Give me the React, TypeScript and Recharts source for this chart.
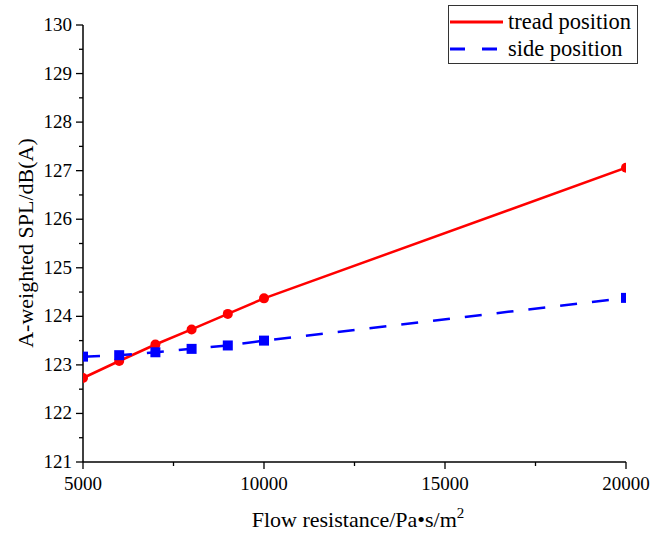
import React from 'react';
import { LineChart, Line, XAxis, YAxis } from 'recharts';

const flowResistance = [5000, 6000, 7000, 8000, 9000, 10000, 20000];
const treadSpl = [122.73, 123.08, 123.42, 123.73, 124.05, 124.37, 127.06];
const sideSpl = [123.17, 123.2, 123.26, 123.33, 123.4, 123.5, 124.38];
const xTicks = [5000, 7500, 10000, 12500, 15000, 17500, 20000];
const yTicks = [121, 121.5, 122, 122.5, 123, 123.5, 124, 124.5, 125, 125.5, 126, 126.5, 127, 127.5, 128, 128.5, 129, 129.5, 130];

const data = flowResistance.map((x, i) => ({ x, tread: treadSpl[i], side: sideSpl[i] }));

const FONT = '"Liberation Serif", "Times New Roman", serif';

// major ticks get a label, minor ones only a short mark
const XTick = (props: any) => {
    const { x, y, payload } = props;
    const major = payload.value % 5000 === 0;
    return (
        <g>
            <line x1={x} x2={x} y1={y} y2={y + (major ? 7 : 4)} stroke="#000" strokeWidth={1.3} />
            {major && (
                <text x={x} y={y + 28} textAnchor="middle" fontFamily={FONT} fontSize={19} fill="#000">
                    {payload.value}
                </text>
            )}
        </g>
    );
};

const YTick = (props: any) => {
    const { x, y, payload } = props;
    const major = Number.isInteger(payload.value);
    return (
        <g>
            <line x1={x} x2={x - (major ? 7 : 4)} y1={y} y2={y} stroke="#000" strokeWidth={1.3} />
            {major && (
                <text x={x - 11} y={y + 6} textAnchor="end" fontFamily={FONT} fontSize={19} fill="#000">
                    {payload.value}
                </text>
            )}
        </g>
    );
};

export default function App() {
    return (
        <div style={{ position: 'absolute', left: 0, top: 0, width: 667, height: 534, background: '#fff' }}>
            <LineChart width={667} height={534} data={data} margin={{ top: 25, right: 41, left: 23, bottom: 22 }}>
                <XAxis
                    dataKey="x"
                    type="number"
                    domain={[5000, 20000]}
                    ticks={xTicks}
                    allowDataOverflow
                    height={50}
                    stroke="#000"
                    strokeWidth={1.5}
                    tickLine={false}
                    tickSize={0}
                    tickMargin={0}
                    interval={0}
                    tick={<XTick />}
                />
                <YAxis
                    type="number"
                    domain={[121, 130]}
                    ticks={yTicks}
                    allowDataOverflow
                    width={60}
                    stroke="#000"
                    strokeWidth={1.5}
                    tickLine={false}
                    tickSize={0}
                    tickMargin={0}
                    interval={0}
                    tick={<YTick />}
                />
                <Line
                    dataKey="tread"
                    stroke="#ff0000"
                    strokeWidth={2.5}
                    dot={{ r: 5, fill: '#ff0000', stroke: '#ff0000', strokeWidth: 0 }}
                    isAnimationActive={false}
                />
                <Line
                    dataKey="side"
                    stroke="#0000ff"
                    strokeWidth={2.5}
                    strokeDasharray="17 15"
                    dot={(p: any) => (
                        <rect key={p.index} x={p.cx - 5} y={p.cy - 5} width={10} height={10} fill="#0000ff" />
                    )}
                    isAnimationActive={false}
                />
            </LineChart>
            <svg width={667} height={534} style={{ position: 'absolute', left: 0, top: 0, pointerEvents: 'none' }}>
                {/* legend */}
                <rect x={448.5} y={5.5} width={189} height={58} fill="#fff" stroke="#333" strokeWidth={1} />
                <line x1={450} x2={503} y1={22} y2={22} stroke="#ff0000" strokeWidth={3} />
                <text x={508} y={29} fontFamily={FONT} fontSize={22.5} fill="#000">tread position</text>
                <line x1={450} x2={503} y1={49} y2={49} stroke="#0000ff" strokeWidth={3} strokeDasharray="15 17" />
                <text x={508} y={56} fontFamily={FONT} fontSize={22.5} fill="#000">side position</text>
                {/* axis titles */}
                <text x={25} y={243} transform="rotate(-90 25 243)" textAnchor="middle" dominantBaseline="central" fontFamily={FONT} fontSize={22} fill="#000">
                    A-weighted SPL/dB(A)
                </text>
                <text x={358} y={527} textAnchor="middle" fontFamily={FONT} fontSize={22} fill="#000">
                    Flow resistance/Pa•s/m<tspan dy={-9} fontSize={15}>2</tspan>
                </text>
            </svg>
        </div>
    );
}
